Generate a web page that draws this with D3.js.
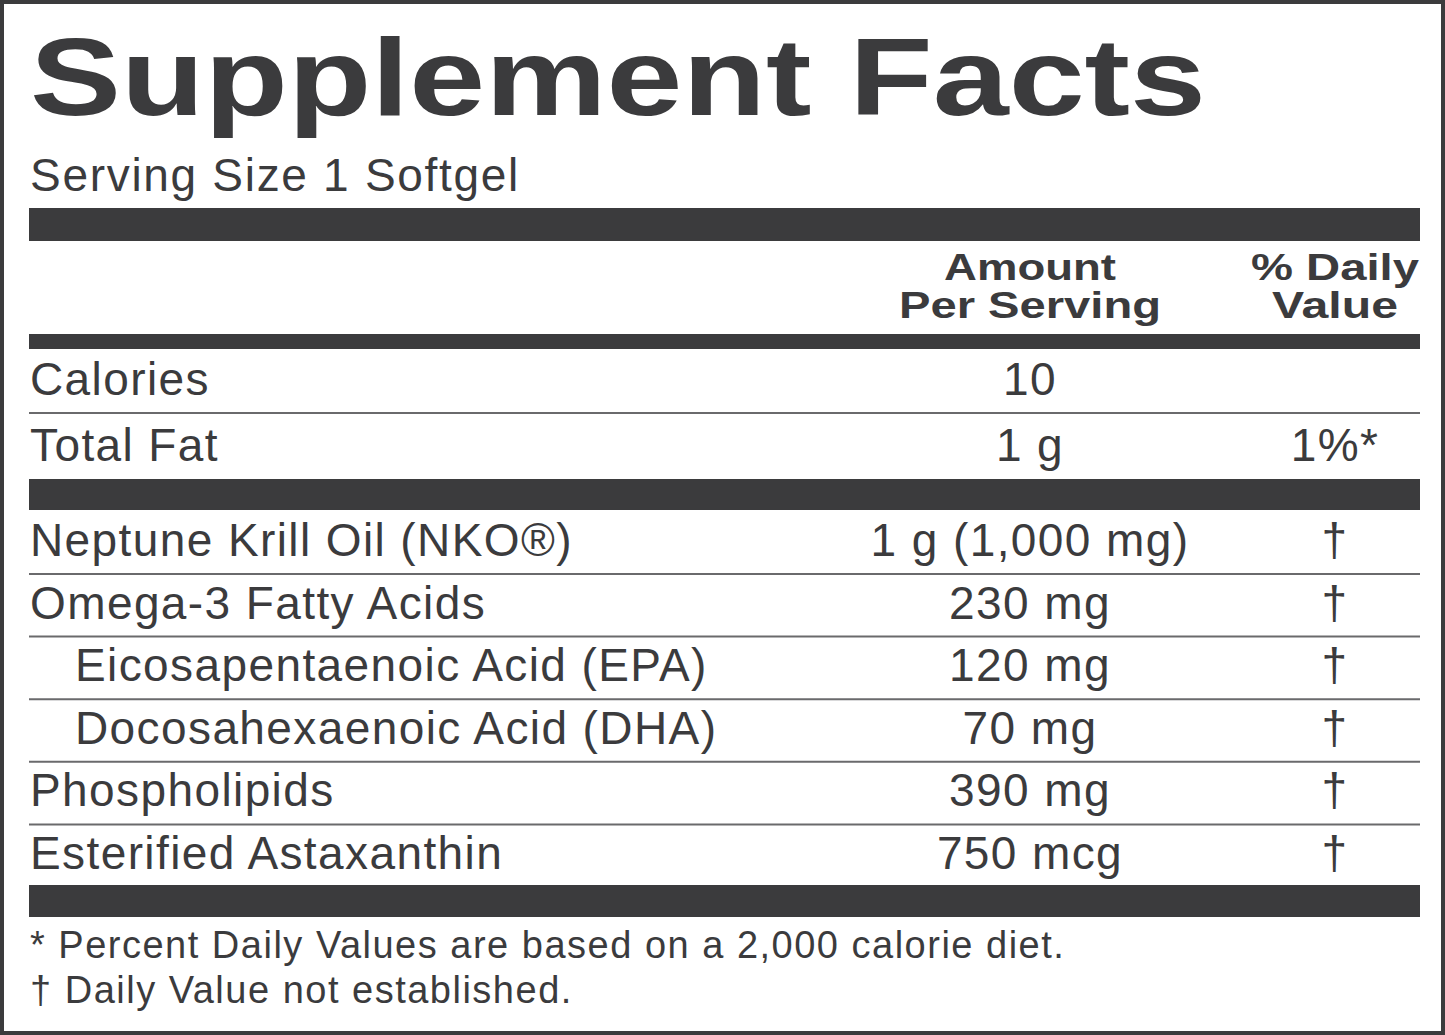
<!DOCTYPE html>
<html><head><meta charset="utf-8">
<script src="https://cdn.jsdelivr.net/npm/d3@7"></script>
<style>body{margin:0;background:#fff}text{font-family:"Liberation Sans",Arial,sans-serif;fill:#3b3b3d}</style>
</head><body>
<svg id="c" width="1445" height="1035"></svg>
<script>
// label content
var topRows = ["Calories", "Total Fat"];
var topAmounts = ["10", "1 g"];
var topDV = ["", "1%*"];
var nutrients = ["Neptune Krill Oil (NKO\u00AE)", "Omega-3 Fatty Acids", "Eicosapentaenoic Acid (EPA)", "Docosahexaenoic Acid (DHA)", "Phospholipids", "Esterified Astaxanthin"];
var amounts = ["1 g (1,000 mg)", "230 mg", "120 mg", "70 mg", "390 mg", "750 mcg"];
var dvs = ["\u2020", "\u2020", "\u2020", "\u2020", "\u2020", "\u2020"];
var indent = [0, 0, 1, 1, 0, 0];
var footnotes = ["* Percent Daily Values are based on a 2,000 calorie diet.", "\u2020 Daily Value not established."];

var svg = d3.select("#c");
var dark = "#3b3b3d";
var L = 29, R = 1420, colAmt = 1030, colDV = 1335;

svg.append("rect").attr("x", 2).attr("y", 2).attr("width", 1441).attr("height", 1031)
  .attr("fill", "none").attr("stroke", dark).attr("stroke-width", 4);

svg.append("text").attr("x", 30).attr("y", 115).attr("font-size", 110).attr("font-weight", 900)
  .attr("textLength", 1176).attr("lengthAdjust", "spacingAndGlyphs").text("Supplement Facts");
svg.append("text").attr("x", 30).attr("y", 191).attr("font-size", 46).attr("letter-spacing", 1.7).text("Serving Size 1 Softgel");

function bar(y0, y1) {
  svg.append("rect").attr("x", L).attr("y", y0).attr("width", R - L).attr("height", y1 - y0).attr("fill", dark);
}
bar(208, 241); bar(334, 349); bar(479, 510); bar(885, 917);

var hdr = svg.append("g").attr("font-size", 37).attr("font-weight", "bold").attr("text-anchor", "middle");
hdr.append("text").attr("x", colAmt).attr("y", 280).attr("textLength", 172).attr("lengthAdjust", "spacingAndGlyphs").text("Amount");
hdr.append("text").attr("x", colAmt).attr("y", 318).attr("textLength", 262).attr("lengthAdjust", "spacingAndGlyphs").text("Per Serving");
hdr.append("text").attr("x", colDV).attr("y", 280).attr("textLength", 168).attr("lengthAdjust", "spacingAndGlyphs").text("% Daily");
hdr.append("text").attr("x", colDV).attr("y", 318).attr("textLength", 126).attr("lengthAdjust", "spacingAndGlyphs").text("Value");

function rows(names, amts, dv, ind, y) {
  var g = svg.append("g").attr("font-size", 46).attr("letter-spacing", 1.4);
  names.forEach(function(n, i) {
    var b = y(i);
    g.append("text").attr("x", 30 + (ind ? ind[i] * 45 : 0)).attr("y", b).text(n);
    g.append("text").attr("x", colAmt).attr("y", b).attr("text-anchor", "middle").text(amts[i]);
    g.append("text").attr("x", colDV).attr("y", b).attr("text-anchor", "middle").text(dv[i]);
    if (i < names.length - 1) {
      g.append("line").attr("x1", L).attr("x2", R).attr("y1", b + 18).attr("y2", b + 18)
        .attr("stroke", "#6a6a6c").attr("stroke-width", 2);
    }
  });
}
var y1 = d3.scaleLinear().domain([0, 1]).range([395, 461]);
rows(topRows, topAmounts, topDV, null, y1);
var y2 = d3.scaleLinear().domain([0, 5]).range([556, 869]);
rows(nutrients, amounts, dvs, indent, y2);

svg.append("g").attr("font-size", 38).attr("letter-spacing", 1.5).selectAll("text").data(footnotes).join("text")
  .attr("x", 30).attr("y", function(d, i) { return 958 + i * 45; }).text(function(d) { return d; });
</script>
</body></html>
